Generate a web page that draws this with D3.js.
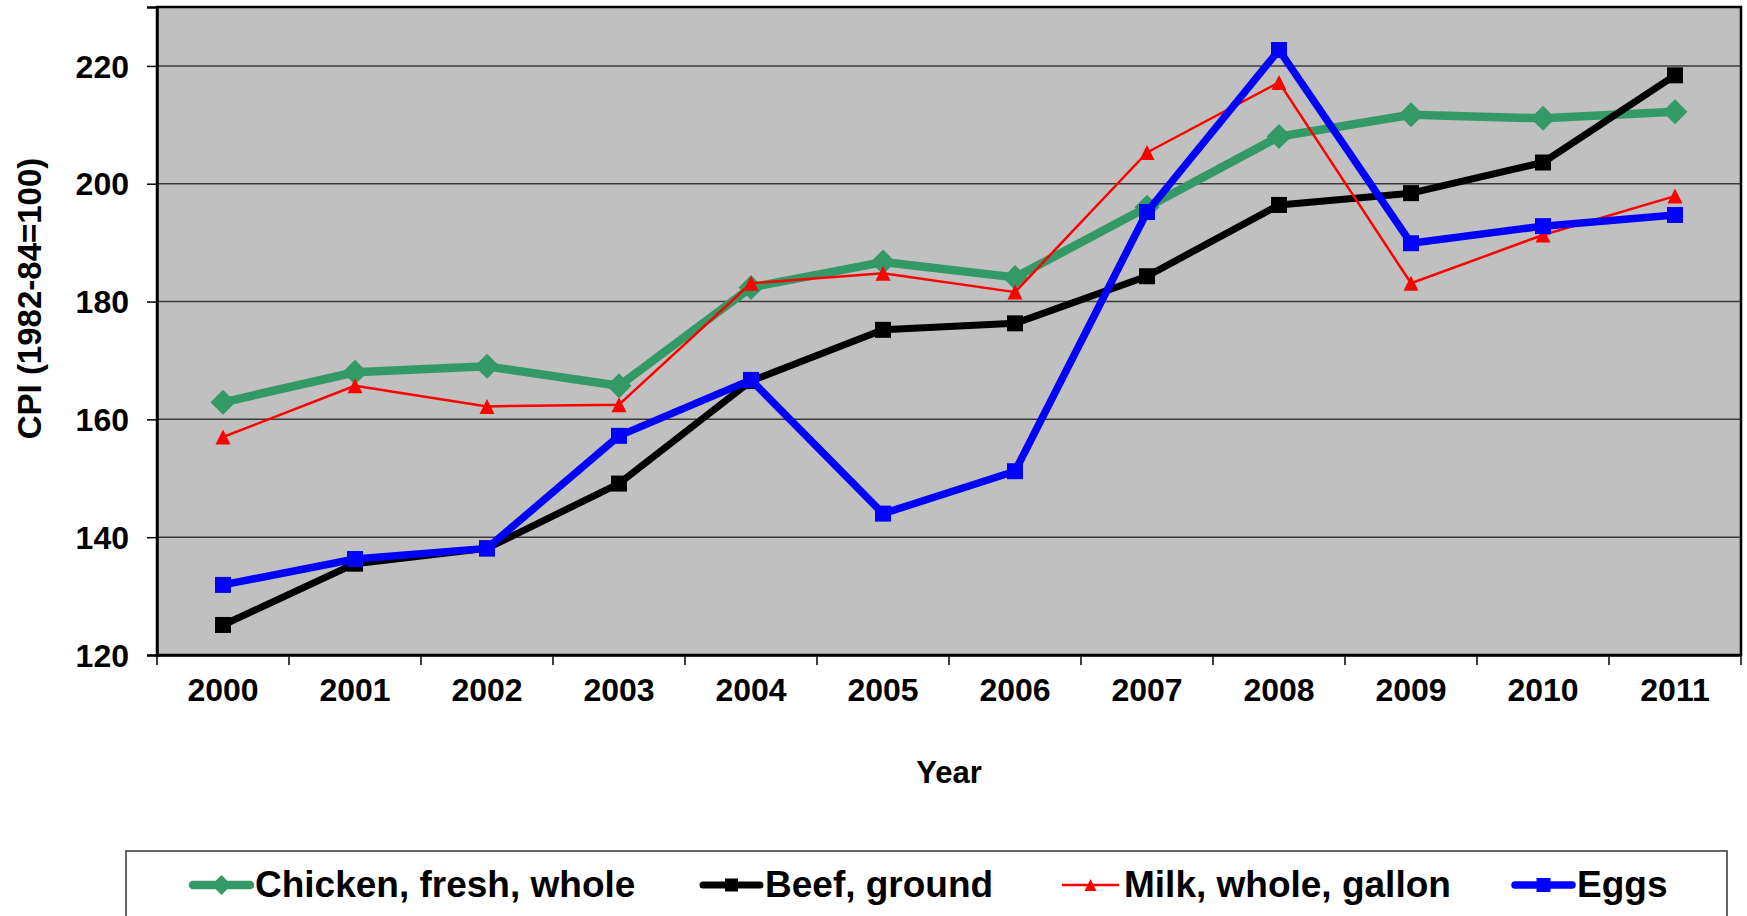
<!DOCTYPE html>
<html>
<head>
<meta charset="utf-8">
<script src="https://cdn.jsdelivr.net/npm/d3@7"></script>
<style>
  html, body { margin: 0; padding: 0; background: #fff; }
  svg { display: block; font-family: "Liberation Sans", Arial, sans-serif; font-weight: bold; }
</style>
</head>
<body>
<svg id="chart" width="1747" height="916"></svg>
<script>
const years = ["2000","2001","2002","2003","2004","2005","2006","2007","2008","2009","2010","2011"];
const chicken = [162.9, 168.0, 169.0, 165.7, 182.4, 186.7, 184.1, 196.0, 208.0, 211.7, 211.1, 212.2];
const beef    = [125.1, 135.5, 138.1, 149.1, 166.5, 175.2, 176.3, 184.3, 196.4, 198.4, 203.6, 218.4];
const milk    = [157.0, 165.7, 162.2, 162.5, 183.1, 184.8, 181.6, 205.3, 217.2, 183.1, 191.3, 197.9];
const eggs    = [131.9, 136.3, 138.1, 157.2, 166.7, 144.0, 151.2, 195.2, 222.7, 189.9, 192.8, 194.7];
const yTicks  = [120, 140, 160, 180, 200, 220];
const seriesNames = ["Chicken, fresh, whole", "Beef, ground", "Milk, whole, gallon", "Eggs"];

const series = [
  { name: seriesNames[0], values: chicken, color: "#339966", width: 8.5, marker: "diamond",  size: 25 },
  { name: seriesNames[1], values: beef,    color: "#000000", width: 7,   marker: "square",   size: 16 },
  { name: seriesNames[2], values: milk,    color: "#FF0000", width: 2.5, marker: "triangle", size: 15 },
  { name: seriesNames[3], values: eggs,    color: "#0000FF", width: 7.5, marker: "square",   size: 16 }
];

const svg = d3.select("#chart");
const L = 157, R = 1741, T = 7, B = 655;
const FONT = "Liberation Sans, Arial, sans-serif";

const x = d3.scaleBand().domain(years).range([L, R]).padding(0);
const y = d3.scaleLinear().domain([120, 230]).range([B, T]);

// plot background
svg.append("rect").attr("x", L).attr("y", T).attr("width", R - L).attr("height", B - T)
  .attr("fill", "#C0C0C0");

// gridlines
svg.append("g").selectAll("line").data(yTicks.filter(d => d > 120)).join("line")
  .attr("x1", L).attr("x2", R).attr("y1", d => y(d)).attr("y2", d => y(d))
  .attr("stroke", "#3a3a3a").attr("stroke-width", 1.5);

// plot border
svg.append("rect").attr("x", L).attr("y", T).attr("width", R - L).attr("height", B - T)
  .attr("fill", "none").attr("stroke", "#000").attr("stroke-width", 2.5);

// y axis
const yAxis = d3.axisLeft(y).tickValues(yTicks).tickSize(10).tickPadding(18).tickFormat(d3.format("d"));
const gy = svg.append("g").attr("transform", `translate(${L},0)`).call(yAxis);
gy.select(".domain").attr("stroke", "#000").attr("stroke-width", 2.5);
gy.selectAll(".tick line").attr("stroke", "#000").attr("stroke-width", 1.5);
gy.selectAll(".tick text").attr("font-size", 32).attr("font-weight", "bold")
  .attr("font-family", FONT).attr("fill", "#000").attr("dy", "0.35em");

// x axis
const xAxis = d3.axisBottom(x).tickSize(0).tickPadding(23);
const gx = svg.append("g").attr("transform", `translate(0,${B})`).call(xAxis);
gx.select(".domain").attr("stroke", "#000").attr("stroke-width", 2.5);
gx.selectAll(".tick text").attr("font-size", 32).attr("font-weight", "bold")
  .attr("font-family", FONT).attr("fill", "#000").attr("dy", "0.71em");
// boundary ticks between categories
const bounds = years.map(d => x(d)).concat([R]);
svg.append("g").selectAll("line").data(bounds).join("line")
  .attr("x1", d => d).attr("x2", d => d).attr("y1", B).attr("y2", B + 10)
  .attr("stroke", "#000").attr("stroke-width", 1.5);

// axis titles
svg.append("text").attr("x", (L + R) / 2).attr("y", 783).attr("text-anchor", "middle")
  .attr("font-size", 31).text("Year");
svg.append("text").attr("transform", "translate(41,298.5) rotate(-90)").attr("text-anchor", "middle")
  .attr("font-size", 33).text("CPI (1982-84=100)");

// markers
function markerPath(type, s) {
  const h = s / 2;
  if (type === "diamond") return `M0,${-h}L${h},0L0,${h}L${-h},0Z`;
  if (type === "square") return `M${-h},${-h}H${h}V${h}H${-h}Z`;
  if (type === "triangle") return `M0,${-h}L${h},${h}L${-h},${h}Z`;
}

const line = d3.line().x((d, i) => x(years[i]) + x.bandwidth() / 2).y(d => y(d));

series.forEach(s => {
  const g = svg.append("g");
  g.append("path").datum(s.values).attr("d", line).attr("fill", "none")
    .attr("stroke", s.color).attr("stroke-width", s.width).attr("stroke-linejoin", "round");
  g.selectAll("path.m").data(s.values).join("path").attr("class", "m")
    .attr("transform", (d, i) => `translate(${x(years[i]) + x.bandwidth() / 2},${y(d)})`)
    .attr("d", markerPath(s.marker, s.size)).attr("fill", s.color);
});

// legend
svg.append("rect").attr("x", 126).attr("y", 851).attr("width", 1601).attr("height", 100)
  .attr("fill", "#fff").attr("stroke", "#333").attr("stroke-width", 1.5);
const legendX = [193, 703, 1062, 1515];
const legendSizes = [20, 13, 12, 14];
series.forEach((s, i) => {
  const g = svg.append("g").attr("transform", `translate(${legendX[i]},885)`);
  g.append("line").attr("x1", 0).attr("x2", 57).attr("y1", 0).attr("y2", 0)
    .attr("stroke", s.color).attr("stroke-width", s.width).attr("stroke-linecap", i === 2 ? "butt" : "round");
  g.append("path").attr("transform", "translate(28.5,0)").attr("d", markerPath(s.marker, legendSizes[i]))
    .attr("fill", s.color);
  g.append("text").attr("x", 62).attr("y", 12).attr("font-size", 37).attr("fill", "#000").text(s.name);
});
</script>
</body>
</html>
